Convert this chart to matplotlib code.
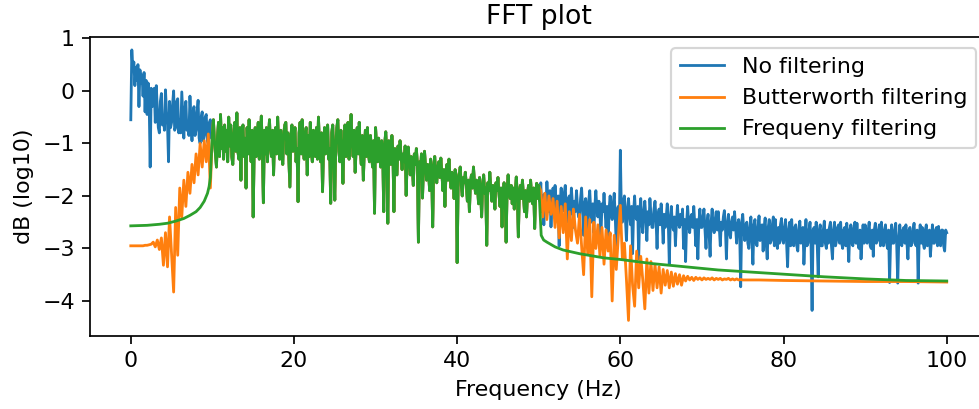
import numpy as np
import matplotlib
matplotlib.use("Agg")
import matplotlib.pyplot as plt

# ---------------- data ----------------
FINE_STEP = 0.125      # Hz between bins for the "No filtering" spectrum
COARSE_STEP = 0.25     # Hz between bins for the Butterworth stop-band parts
BAND_LOW = 10.0        # pass band edges (Hz)
BAND_HIGH = 50.0

# "No filtering" spectrum (log10 magnitude), 0 - 9.875 Hz
blue_0_10 = [
    -0.55, 0.78, 0.40, 0.55, 0.10, 0.45, 0.20, 0.50,
    -0.30, 0.40, 0.15, 0.30, -0.10, 0.35, -0.40, 0.20,
    -0.45, 0.15, -0.20, -1.45, 0.05, -0.30, -0.10, 0.05,
    -0.60, 0.10, -0.35, -0.70, -0.80, -0.20, -0.05, -0.65,
    -0.50, -0.75, 0.02, -0.40, -0.65, -1.35, -0.20, -0.70,
    -0.60, -0.25, 0.00, -0.75, -0.70, -0.20, -0.15, -0.80,
    -0.55, -0.80, -0.02, -0.45, -0.90, -0.35, -0.20, -0.75,
    -0.65, -0.85, -0.10, -0.55, -0.95, -0.40, -0.30, -0.85,
    -0.75, -0.40, -0.18, -0.90, -1.00, -0.50, -0.40, -0.95,
    -0.85, -0.50, -0.45, -0.95, -1.00, -0.60, -0.55, -0.90]

# 10 - 49.875 Hz (pass band, shared by all three curves)
blue_10_50 = [
    -0.80, -0.55, -0.95, -1.20, -1.45, -0.85, -0.60, -1.25,
    -0.45, -1.10, -0.70, -1.30, -0.65, -1.15, -0.75, -1.35,
    -0.50, -1.05, -0.65, -1.25, -1.40, -0.80, -0.60, -1.15,
    -0.42, -1.15, -1.30, -0.70, -1.70, -0.80, -0.65, -1.25,
    -0.90, -1.85, -0.70, -1.20, -0.55, -1.10, -1.35, -0.75,
    -2.40, -1.10, -0.70, -1.25, -0.80, -0.60, -1.30, -0.85,
    -0.48, -1.15, -2.13, -0.75, -1.20, -0.70, -1.35, -0.85,
    -0.55, -1.10, -1.25, -0.75, -1.60, -0.85, -0.70, -1.20,
    -0.50, -1.05, -1.30, -0.75, -1.15, -1.40, -0.80, -0.65,
    -0.60, -1.20, -0.80, -1.30, -1.83, -0.85, -0.65, -1.15,
    -0.90, -0.70, -1.35, -1.10, -2.11, -0.80, -0.60, -1.20,
    -0.55, -1.10, -1.30, -0.80, -0.70, -1.60, -0.85, -1.25,
    -0.60, -1.15, -1.35, -0.75, -1.10, -1.25, -0.70, -1.30,
    -0.50, -1.05, -1.35, -0.80, -1.92, -1.10, -0.70, -1.20,
    -0.85, -0.65, -1.30, -1.10, -2.14, -0.80, -0.65, -1.25,
    -2.08, -1.00, -0.70, -0.55, -1.15, -1.35, -0.75, -1.10,
    -1.76, -1.05, -0.65, -1.25, -0.80, -0.60, -1.30, -0.85,
    -0.45, -1.00, -1.25, -0.75, -1.55, -1.05, -0.70, -1.20,
    -0.60, -1.15, -1.40, -0.85, -1.70, -1.10, -0.75, -1.25,
    -0.70, -1.20, -1.35, -0.85, -1.15, -1.45, -0.95, -2.33,
    -0.70, -1.05, -1.35, -0.90, -1.20, -1.45, -0.95, -1.15,
    -2.30, -1.00, -0.78, -1.20, -2.52, -0.95, -1.10, -1.40,
    -0.85, -1.15, -2.30, -1.10, -1.35, -1.60, -1.05, -1.30,
    -0.95, -1.25, -1.50, -1.20, -1.35, -1.05, -1.99, -1.30,
    -1.07, -1.35, -1.60, -1.25, -1.45, -1.80, -1.20, -1.40,
    -1.10, -1.40, -2.88, -1.35, -1.55, -1.20, -2.04, -1.45,
    -1.15, -1.45, -1.70, -1.40, -1.55, -1.90, -1.30, -1.50,
    -2.59, -1.45, -1.25, -1.60, -1.75, -1.45, -1.35, -1.65,
    -1.28, -1.55, -1.90, -1.50, -2.20, -1.60, -1.40, -1.70,
    -1.30, -1.65, -1.85, -1.55, -1.70, -2.05, -1.50, -1.60,
    -3.27, -1.70, -1.60, -1.45, -1.80, -2.00, -1.65, -1.75,
    -1.55, -1.80, -2.10, -1.70, -2.30, -1.75, -1.60, -1.85,
    -1.45, -1.75, -1.95, -1.70, -1.85, -2.15, -1.65, -1.90,
    -2.40, -1.80, -1.60, -1.95, -1.85, -2.94, -1.75, -1.90,
    -1.55, -1.85, -2.10, -1.80, -1.95, -2.25, -1.75, -1.90,
    -1.65, -1.95, -2.20, -1.85, -2.59, -1.90, -1.75, -2.00,
    -2.88, -1.85, -1.60, -1.95, -2.05, -1.80, -2.15, -1.85,
    -2.25, -1.90, -1.64, -2.00, -2.78, -1.90, -1.80, -2.05,
    -1.70, -2.00, -2.30, -1.90, -2.40, -1.95, -1.80, -2.10,
    -1.70, -2.00, -2.15, -1.85, -2.62, -1.95, -1.76, -2.05]

# 50 - 100 Hz
blue_50_100 = [
    -1.80, -2.10, -1.75, -2.30, -2.00, -2.55, -1.95, -2.20,
    -1.73, -2.05, -2.30, -1.90, -2.59, -2.10, -1.85, -2.25,
    -1.80, -2.15, -2.45, -2.00, -2.95, -2.10, -1.85, -2.30,
    -2.20, -1.95, -1.80, -2.25, -2.50, -2.05, -2.00, -2.35,
    -1.85, -2.15, -2.60, -2.10, -2.30, -1.90, -2.20, -2.40,
    -2.40, -2.05, -1.85, -2.25, -2.75, -2.15, -2.05, -2.35,
    -2.90, -2.10, -1.90, -2.30, -2.50, -2.15, -2.70, -2.20,
    -1.90, -2.25, -2.40, -2.10, -2.35, -2.75, -2.15, -2.30,
    -1.95, -2.30, -2.60, -2.20, -3.00, -2.25, -2.00, -2.35,
    -2.45, -2.15, -1.95, -2.40, -2.95, -2.25, -2.20, -2.50,
    -1.13, -2.30, -2.50, -2.10, -2.00, -2.45, -2.85, -2.25,
    -2.05, -2.35, -2.55, -2.20, -3.10, -2.30, -2.00, -2.40,
    -2.45, -2.20, -3.20, -2.30, -2.05, -2.50, -2.70, -2.30,
    -2.10, -2.40, -2.85, -2.30, -2.55, -2.05, -2.35, -2.60,
    -2.60, -2.25, -2.10, -2.45, -3.00, -2.35, -2.25, -2.55,
    -2.15, -2.45, -2.90, -2.35, -2.60, -2.40, -2.15, -2.50,
    -3.30, -2.45, -2.20, -2.55, -2.65, -2.40, -2.95, -2.50,
    -2.18, -2.50, -2.60, -2.35, -2.55, -2.25, -3.00, -2.45,
    -3.25, -2.50, -2.20, -2.55, -2.70, -2.40, -2.35, -2.60,
    -2.20, -2.55, -2.95, -2.45, -3.20, -2.50, -2.25, -2.60,
    -2.60, -2.40, -2.25, -2.65, -3.00, -2.50, -2.35, -2.70,
    -3.15, -2.50, -2.25, -2.60, -2.70, -2.45, -2.30, -2.65,
    -2.30, -2.60, -2.95, -2.50, -2.65, -2.40, -2.28, -2.60,
    -3.20, -2.55, -2.35, -2.70, -2.80, -2.50, -2.40, -2.65,
    -2.30, -2.60, -2.90, -2.55, -2.45, -2.70, -3.73, -2.50,
    -2.35, -2.65, -2.85, -2.55, -2.50, -2.90, -3.00, -2.60,
    -2.40, -2.85, -3.30, -2.55, -2.45, -2.90, -2.95, -2.60,
    -2.38, -2.85, -2.70, -2.55, -3.05, -2.60, -2.42, -2.90,
    -3.20, -2.60, -2.45, -2.90, -2.85, -2.55, -2.40, -2.95,
    -2.45, -2.85, -3.00, -2.60, -2.90, -2.55, -2.43, -2.85,
    -2.90, -2.60, -2.45, -2.90, -3.35, -2.65, -2.50, -2.95,
    -2.45, -2.85, -2.95, -2.60, -2.55, -2.95, -3.05, -2.65,
    -2.48, -2.90, -2.80, -2.60, -3.30, -2.85, -2.45, -2.95,
    -2.90, -2.65, -2.50, -2.95, -4.18, -2.65, -2.60, -2.90,
    -2.50, -2.90, -3.54, -2.65, -2.55, -2.95, -2.95, -2.65,
    -2.48, -2.90, -3.00, -2.65, -2.90, -2.60, -2.50, -2.95,
    -3.20, -2.65, -2.50, -2.95, -2.85, -2.60, -2.55, -2.90,
    -2.50, -2.90, -3.00, -2.65, -2.60, -2.95, -2.52, -2.85,
    -3.25, -2.65, -2.55, -2.90, -2.95, -2.60, -2.50, -2.90,
    -2.52, -2.90, -3.00, -2.65, -3.20, -2.85, -2.55, -2.90,
    -2.55, -2.85, -2.90, -2.65, -2.50, -2.95, -3.00, -2.65,
    -3.15, -2.65, -2.52, -2.90, -2.85, -2.65, -2.55, -2.95,
    -2.50, -2.90, -2.95, -2.65, -2.55, -2.90, -3.00, -2.65,
    -3.65, -2.85, -2.55, -2.90, -2.90, -2.65, -2.52, -2.95,
    -3.66, -2.85, -2.55, -2.90, -2.95, -2.65, -2.60, -2.90,
    -2.55, -2.90, -3.20, -2.65, -2.60, -2.95, -2.90, -2.65,
    -2.52, -2.90, -2.95, -2.65, -3.66, -2.85, -2.55, -2.90,
    -2.60, -2.90, -3.00, -2.65, -2.55, -2.95, -2.85, -2.65,
    -3.15, -2.85, -2.55, -2.90, -2.90, -2.65, -2.60, -2.95,
    -2.58, -2.90, -2.95, -2.65, -2.65, -2.95, -3.05, -2.65,
    -2.70]

# "Butterworth filtering": stop-band parts (pass band equals blue_10_50)
orange_0_10 = [-2.95, -2.95, -2.95, -2.95, -2.95, -2.95, -2.95, -2.94,
               -2.94, -2.93, -2.92, -2.88, -2.97, -2.84, -3.02, -2.80,
               -3.32, -2.70, -3.35, -2.40, -3.10, -3.83, -2.22, -3.13,
               -1.85, -2.40, -1.70, -2.20, -1.55, -1.95, -1.40, -1.75,
               -1.20, -1.60, -1.00, -1.45, -0.95, -1.35, -0.82, -1.85]

orange_50_75 = [
    -1.80, -1.90, -2.40, -1.95,  -2.45, -2.00, -2.35, -2.05,
    -2.60, -2.10, -2.80, -2.20,  -2.70, -2.15, -3.20, -2.30,
    -2.85, -2.25, -2.65, -2.90,  -2.35, -2.95, -3.50, -2.40,
    -3.10, -2.45, -3.92, -2.50,  -3.00, -2.55, -3.15, -2.60,
    -3.30, -2.65, -3.05, -2.70,  -4.00, -2.75, -3.40, -2.80,
    -2.18, -3.20, -2.90, -3.60,  -4.37, -2.95, -3.70, -4.10,
    -3.05, -3.75, -3.15, -3.60,  -4.15, -3.20, -3.85, -3.25,
    -3.80, -3.30, -3.75, -3.35,  -3.85, -3.40, -3.70, -3.42,
    -3.75, -3.45, -3.72, -3.48,  -3.68, -3.50, -3.70, -3.52,
    -3.62, -3.53, -3.60, -3.55,  -3.61, -3.55, -3.59, -3.56,
    -3.60, -3.56, -3.59, -3.57,  -3.59, -3.56, -3.60, -3.57,
    -3.59, -3.57, -3.60, -3.58,  -3.59, -3.57, -3.60, -3.58,
    -3.60, -3.58, -3.60, -3.59,  -3.60]
orange_tail_freq = [77, 80, 85, 90, 95, 100]
orange_tail_db = [-3.60, -3.61, -3.62, -3.63, -3.63, -3.64]

# "Frequeny filtering": smooth stop-band curves (pass band equals blue_10_50)
green_low_freq = [0, 2, 3.5, 4.5, 5.5, 6.5, 7.25, 8.0, 8.5, 9.0, 9.4, 9.6, 9.75]
green_low_db = [-2.57, -2.56, -2.54, -2.52, -2.48, -2.43, -2.37, -2.30,
                -2.22, -2.10, -1.95, -1.82, -1.65]
green_high_freq = [50.3, 50.6, 51, 52, 53, 55, 58, 60, 64, 68, 72, 76,
                   80, 85, 90, 95, 100]
green_high_db = [-2.75, -2.84, -2.88, -2.97, -3.03, -3.10, -3.18, -3.21,
                 -3.29, -3.35, -3.41, -3.45, -3.49, -3.54, -3.58, -3.61, -3.62]

labels = ["No filtering", "Butterworth filtering", "Frequeny filtering"]

assert len(blue_0_10) == 80 and len(blue_10_50) == 320 and len(blue_50_100) == 401
assert len(orange_0_10) == 40 and len(orange_50_75) == 101


# ---------------- assemble series ----------------
def bins(start, values, step):
    return start + np.arange(len(values)) * step


f_b0 = bins(0.0, blue_0_10, FINE_STEP)
f_b1 = bins(BAND_LOW, blue_10_50, FINE_STEP)
f_b2 = bins(BAND_HIGH, blue_50_100, FINE_STEP)
blue_f = np.concatenate([f_b0, f_b1, f_b2])
blue = np.array(blue_0_10 + blue_10_50 + blue_50_100)

orange_f = np.concatenate([bins(0.0, orange_0_10, COARSE_STEP), f_b1,
                           bins(BAND_HIGH, orange_50_75, COARSE_STEP),
                           orange_tail_freq])
orange = np.concatenate([orange_0_10, blue_10_50, orange_50_75, orange_tail_db])

green_f = np.concatenate([green_low_freq, f_b1, [BAND_HIGH], green_high_freq])
green = np.concatenate([green_low_db, blue_10_50, blue_50_100[:1], green_high_db])

# ---------------- plot ----------------
DPI = 155
plt.rcParams["font.size"] = 10.3
plt.rcParams["lines.linewidth"] = 1.3
fig = plt.figure(figsize=(979 / DPI, 409 / DPI), dpi=DPI)
ax = fig.add_axes([90 / 979, 73 / 409, 897.5 / 979, 298.7 / 409])

ax.plot(blue_f, blue, color="C0", label=labels[0])
ax.plot(orange_f, orange, color="C1", label=labels[1])
ax.plot(green_f, green, color="C2", label=labels[2])

ax.set_xlim(-5, 105)
ax.set_ylim(-4.667, 1.02)
ax.set_xticks([0, 20, 40, 60, 80, 100])
ax.set_yticks([-4, -3, -2, -1, 0, 1])
ax.set_title("FFT plot")
ax.set_xlabel("Frequency (Hz)")
ax.set_ylabel("dB (log10)")
ax.legend(loc="upper right")

fig.savefig("out.png", dpi=DPI)
